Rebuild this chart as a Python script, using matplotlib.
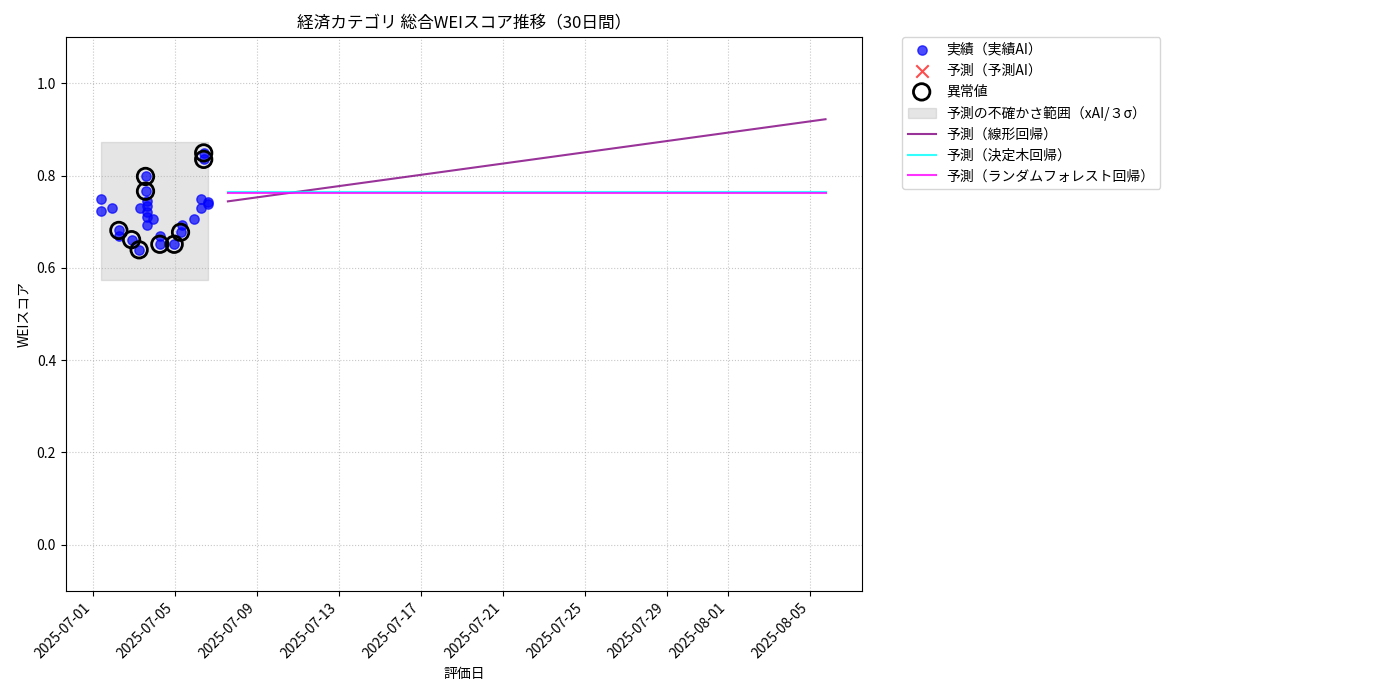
import matplotlib
matplotlib.use("Agg")
import matplotlib.pyplot as plt
import matplotlib.dates as mdates
import pandas as pd
import numpy as np

plt.rcParams['font.family'] = ['Noto Sans CJK JP', 'DejaVu Sans']

base = pd.Timestamp("2025-07-01")
actual_days = [0.39, 0.39, 0.94, 1.27, 1.27, 1.89, 2.26, 2.29, 2.57, 2.57, 2.62, 2.62, 2.62, 2.62,
               2.62, 2.94, 3.27, 3.27, 3.97, 4.28, 4.33, 4.94, 5.30, 5.30, 5.41, 5.41, 5.60, 5.60]
actual_vals = [0.750, 0.724, 0.730, 0.681, 0.668, 0.661, 0.639, 0.730, 0.798, 0.766, 0.745, 0.735,
               0.720, 0.710, 0.692, 0.706, 0.668, 0.651, 0.651, 0.677, 0.693, 0.706, 0.750, 0.730,
               0.849, 0.835, 0.742, 0.738]
anom_days = [1.27, 1.89, 2.26, 2.57, 2.57, 3.27, 3.97, 4.28, 5.41, 5.41]
anom_vals = [0.681, 0.661, 0.639, 0.798, 0.766, 0.651, 0.651, 0.677, 0.849, 0.835]
band_days = [0.39, 5.60]
band_low, band_high = 0.573, 0.872
pred_days = [6.59, 35.76]
linear_vals = [0.744, 0.922]
tree_vals = [0.765, 0.765]
forest_vals = [0.762, 0.762]

def d(days):
    return [base + pd.Timedelta(days=x) for x in days]

fig = plt.figure(figsize=(14, 7), dpi=100)
ax = fig.add_axes([0.047, 0.156, 0.569, 0.791])
ax.scatter(d(actual_days), actual_vals, color='blue', alpha=0.7, s=45, label='実績（実績AI）', zorder=3)
ax.scatter([], [], color='red', marker='x', alpha=0.7, s=80, label='予測（予測AI）')
ax.scatter(d(anom_days), anom_vals, facecolors='none', edgecolors='black', s=140, linewidths=2, label='異常値', zorder=4)
ax.fill_between(d(band_days), band_low, band_high, color='gray', alpha=0.2, label='予測の不確かさ範囲（xAI/３σ）')
ax.plot(d(pred_days), linear_vals, color='purple', alpha=0.8, label='予測（線形回帰）')
ax.plot(d(pred_days), tree_vals, color='cyan', alpha=0.8, label='予測（決定木回帰）')
ax.plot(d(pred_days), forest_vals, color='magenta', alpha=0.8, label='予測（ランダムフォレスト回帰）')

ax.set_xlim(base + pd.Timedelta(days=-1.32), base + pd.Timedelta(days=37.56))
ax.set_ylim(-0.1, 1.1)
ticks = ["2025-07-01", "2025-07-05", "2025-07-09", "2025-07-13", "2025-07-17", "2025-07-21",
         "2025-07-25", "2025-07-29", "2025-08-01", "2025-08-05"]
ax.set_xticks([pd.Timestamp(t) for t in ticks])
ax.set_xticklabels(ticks, rotation=45, ha='right')
ax.set_yticks([0.0, 0.2, 0.4, 0.6, 0.8, 1.0])
ax.grid(True, linestyle=':', alpha=0.7)
ax.set_title('経済カテゴリ 総合WEIスコア推移（30日間）')
ax.set_xlabel('評価日')
ax.set_ylabel('WEIスコア')
ax.legend(loc='upper left', bbox_to_anchor=(1.05, 1.0), borderaxespad=0.)
fig.savefig('out.png')
